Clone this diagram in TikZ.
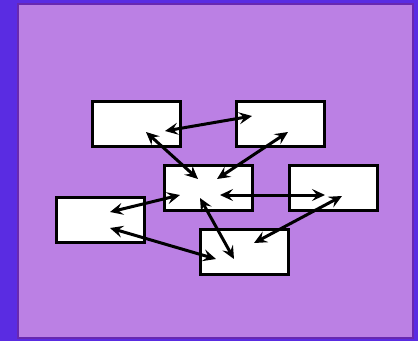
\documentclass[tikz,border=0pt]{standalone}
\usetikzlibrary{arrows.meta}
\definecolor{bgblue}{RGB}{90,44,226}
\definecolor{panel}{RGB}{187,128,228}
\definecolor{panelborder}{RGB}{104,40,176}
\tikzset{
  box/.style={draw=black, fill=white, line width=3pt, minimum width=88pt, minimum height=45pt, inner sep=0pt},
  link/.style={line width=3pt, {Stealth[length=13pt,width=12pt,inset=5pt]}-{Stealth[length=13pt,width=12pt,inset=5pt]}}
}
\begin{document}
\begin{tikzpicture}[x=1pt,y=-1pt]
\fill[bgblue] (0,0) rectangle (418,341);
\draw[panelborder, fill=panel, line width=2.5pt] (18,4) rectangle (413,338);
\node[box] (A) at (136,124) {};
\node[box] (B) at (280,124) {};
\node[box] (C) at (208,188) {};
\node[box] (D) at (333.5,188) {};
\node[box] (E) at (100,219.5) {};
\node[box] (F) at (244,252) {};
% arrow end points
\coordinate (ab) at (165,131);
\coordinate (ba) at (252,116);
\coordinate (ac) at (146,132);
\coordinate (ca) at (198,179);
\coordinate (bc) at (288,132);
\coordinate (cb) at (217,179);
\coordinate (ce) at (180,195);
\coordinate (ec) at (110,212);
\coordinate (cd) at (220,195);
\coordinate (dc) at (325,195);
\coordinate (cf) at (200,198);
\coordinate (fc) at (234,259);
\coordinate (ef) at (110,228);
\coordinate (fe) at (216,259);
\coordinate (df) at (342,196);
\coordinate (fd) at (254,243);
\draw[link] (ab) -- (ba);
\draw[link] (ac) -- (ca);
\draw[link] (bc) -- (cb);
\draw[link] (ce) -- (ec);
\draw[link] (cd) -- (dc);
\draw[link] (cf) -- (fc);
\draw[link] (ef) -- (fe);
\draw[link] (df) -- (fd);
\end{tikzpicture}
\end{document}
